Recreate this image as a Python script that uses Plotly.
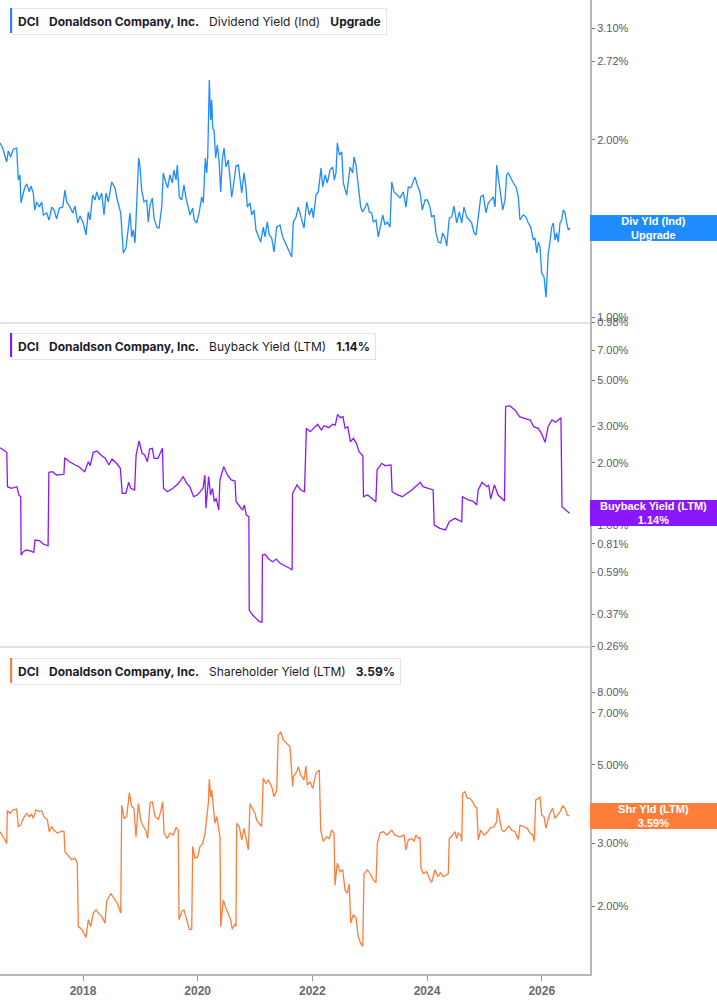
import math
import plotly.graph_objects as go

# ---------------- data (decimal years, percent values) ----------------
div_year = [
    2016.553, 2016.600, 2016.669, 2016.697, 2016.739, 2016.784, 2016.844, 2016.854, 2016.872, 2016.901,
    2016.919, 2016.959, 2016.989, 2017.018, 2017.064, 2017.093, 2017.133, 2017.158, 2017.193, 2017.238,
    2017.280, 2017.308, 2017.367, 2017.407, 2017.454, 2017.494, 2017.541, 2017.587, 2017.646, 2017.686,
    2017.716, 2017.773, 2017.820, 2017.861, 2017.908, 2017.948, 2018.005, 2018.052, 2018.093, 2018.122,
    2018.169, 2018.209, 2018.239, 2018.284, 2018.326, 2018.366, 2018.401, 2018.441, 2018.501, 2018.558,
    2018.598, 2018.658, 2018.703, 2018.750, 2018.790, 2018.820, 2018.849, 2018.877, 2018.907, 2018.937,
    2018.971, 2018.994, 2019.024, 2019.064, 2019.111, 2019.139, 2019.169, 2019.209, 2019.238, 2019.285,
    2019.325, 2019.373, 2019.400, 2019.442, 2019.477, 2019.517, 2019.557, 2019.587, 2019.622, 2019.645,
    2019.680, 2019.721, 2019.761, 2019.796, 2019.836, 2019.866, 2019.913, 2019.941, 2019.983, 2020.028,
    2020.070, 2020.098, 2020.133, 2020.157, 2020.175, 2020.203, 2020.227, 2020.245, 2020.262, 2020.285,
    2020.314, 2020.342, 2020.372, 2020.401, 2020.429, 2020.459, 2020.494, 2020.534, 2020.564, 2020.593,
    2020.621, 2020.668, 2020.709, 2020.738, 2020.768, 2020.808, 2020.843, 2020.866, 2020.913, 2020.942,
    2020.982, 2021.017, 2021.057, 2021.099, 2021.145, 2021.174, 2021.214, 2021.249, 2021.291, 2021.331,
    2021.378, 2021.436, 2021.483, 2021.523, 2021.563, 2021.610, 2021.640, 2021.668, 2021.715, 2021.755,
    2021.797, 2021.854, 2021.901, 2021.947, 2021.989, 2022.017, 2022.064, 2022.104, 2022.151, 2022.180,
    2022.221, 2022.261, 2022.308, 2022.355, 2022.383, 2022.412, 2022.435, 2022.470, 2022.512, 2022.540,
    2022.599, 2022.657, 2022.704, 2022.726, 2022.761, 2022.801, 2022.843, 2022.878, 2022.918, 2022.958,
    2022.993, 2023.035, 2023.063, 2023.110, 2023.150, 2023.192, 2023.227, 2023.267, 2023.307, 2023.354,
    2023.384, 2023.424, 2023.471, 2023.529, 2023.586, 2023.633, 2023.673, 2023.715, 2023.750, 2023.790,
    2023.830, 2023.877, 2023.917, 2023.965, 2024.005, 2024.052, 2024.081, 2024.121, 2024.156, 2024.196,
    2024.238, 2024.273, 2024.313, 2024.343, 2024.388, 2024.430, 2024.470, 2024.517, 2024.563, 2024.605,
    2024.645, 2024.692, 2024.737, 2024.779, 2024.819, 2024.854, 2024.894, 2024.936, 2024.981, 2025.028,
    2025.068, 2025.110, 2025.156, 2025.186, 2025.215, 2025.243, 2025.273, 2025.320, 2025.360, 2025.389,
    2025.417, 2025.459, 2025.505, 2025.552, 2025.592, 2025.621, 2025.679, 2025.726, 2025.766, 2025.808,
    2025.853, 2025.883, 2025.913, 2025.941, 2025.970, 2026.000, 2026.040, 2026.075, 2026.097, 2026.115,
    2026.144, 2026.174, 2026.202, 2026.232, 2026.261, 2026.289, 2026.319, 2026.348, 2026.376, 2026.406,
    2026.435, 2026.464, 2026.493,
]
div_val = [
    1.977, 1.938, 1.835, 1.916, 1.871, 1.931, 1.938, 1.849, 1.710, 1.744,
    1.563, 1.625, 1.664, 1.684, 1.632, 1.671, 1.625, 1.521, 1.569, 1.538,
    1.569, 1.491, 1.503, 1.462, 1.538, 1.521, 1.468, 1.532, 1.538, 1.644,
    1.569, 1.538, 1.503, 1.544, 1.445, 1.485, 1.445, 1.379, 1.509, 1.462,
    1.612, 1.581, 1.632, 1.581, 1.625, 1.491, 1.625, 1.569, 1.697, 1.658,
    1.581, 1.503, 1.285, 1.310, 1.434, 1.503, 1.368, 1.406, 1.336, 1.581,
    1.864, 1.799, 1.644, 1.569, 1.581, 1.451, 1.550, 1.594, 1.474, 1.422,
    1.417, 1.538, 1.758, 1.697, 1.658, 1.744, 1.690, 1.778, 1.710, 1.813,
    1.600, 1.581, 1.677, 1.594, 1.538, 1.491, 1.532, 1.462, 1.445, 1.509,
    1.600, 1.563, 1.864, 1.758, 1.871, 2.530, 2.163, 2.339, 2.096, 2.080,
    1.864, 1.961, 1.849, 1.632, 1.849, 1.938, 1.799, 1.849, 1.724, 1.600,
    1.664, 1.806, 1.813, 1.731, 1.625, 1.758, 1.658, 1.538, 1.563, 1.491,
    1.521, 1.406, 1.368, 1.341, 1.422, 1.368, 1.451, 1.379, 1.363, 1.290,
    1.422, 1.434, 1.368, 1.341, 1.315, 1.285, 1.265, 1.451, 1.479, 1.538,
    1.479, 1.417, 1.569, 1.491, 1.532, 1.474, 1.612, 1.632, 1.792, 1.664,
    1.744, 1.690, 1.778, 1.799, 1.710, 1.758, 1.977, 1.886, 1.908, 1.690,
    1.612, 1.799, 1.758, 1.871, 1.813, 1.664, 1.538, 1.509, 1.538, 1.563,
    1.509, 1.503, 1.451, 1.462, 1.368, 1.445, 1.491, 1.434, 1.451, 1.422,
    1.697, 1.632, 1.612, 1.594, 1.632, 1.538, 1.664, 1.658, 1.690, 1.731,
    1.677, 1.632, 1.521, 1.581, 1.581, 1.538, 1.479, 1.491, 1.390, 1.341,
    1.336, 1.390, 1.363, 1.320, 1.474, 1.479, 1.544, 1.445, 1.509, 1.445,
    1.538, 1.479, 1.462, 1.445, 1.390, 1.379, 1.479, 1.600, 1.612, 1.503,
    1.563, 1.581, 1.600, 1.538, 1.813, 1.731, 1.632, 1.521, 1.581, 1.744,
    1.758, 1.724, 1.690, 1.664, 1.600, 1.462, 1.491, 1.479, 1.445, 1.422,
    1.352, 1.363, 1.285, 1.341, 1.315, 1.188, 1.170, 1.081, 1.170, 1.285,
    1.341, 1.422, 1.445, 1.352, 1.390, 1.341, 1.445, 1.462, 1.521, 1.503,
    1.445, 1.406, 1.417,
]

buy_year = [
    2016.553, 2016.619, 2016.671, 2016.683, 2016.750, 2016.847, 2016.880, 2016.914, 2016.921, 2016.959,
    2017.011, 2017.077, 2017.142, 2017.163, 2017.241, 2017.306, 2017.391, 2017.405, 2017.470, 2017.536,
    2017.667, 2017.681, 2017.765, 2017.864, 2017.929, 2018.028, 2018.093, 2018.126, 2018.178, 2018.244,
    2018.310, 2018.389, 2018.453, 2018.506, 2018.584, 2018.651, 2018.684, 2018.748, 2018.795, 2018.834,
    2018.900, 2018.926, 2018.978, 2019.031, 2019.076, 2019.123, 2019.162, 2019.209, 2019.240, 2019.306,
    2019.385, 2019.404, 2019.470, 2019.568, 2019.667, 2019.746, 2019.810, 2019.863, 2019.929, 2019.995,
    2020.060, 2020.093, 2020.126, 2020.145, 2020.191, 2020.224, 2020.257, 2020.290, 2020.323, 2020.368,
    2020.388, 2020.454, 2020.518, 2020.585, 2020.651, 2020.670, 2020.716, 2020.782, 2020.815, 2020.846,
    2020.893, 2020.899, 2020.958, 2021.010, 2021.077, 2021.122, 2021.129, 2021.174, 2021.240, 2021.307,
    2021.371, 2021.438, 2021.502, 2021.602, 2021.647, 2021.654, 2021.732, 2021.799, 2021.863, 2021.896,
    2021.963, 2022.027, 2022.093, 2022.158, 2022.205, 2022.289, 2022.355, 2022.400, 2022.440, 2022.486,
    2022.533, 2022.571, 2022.617, 2022.664, 2022.716, 2022.768, 2022.814, 2022.880, 2022.892, 2022.965,
    2023.044, 2023.108, 2023.129, 2023.208, 2023.272, 2023.372, 2023.391, 2023.469, 2023.569, 2023.633,
    2023.733, 2023.797, 2023.883, 2023.928, 2024.027, 2024.106, 2024.125, 2024.223, 2024.322, 2024.387,
    2024.486, 2024.551, 2024.605, 2024.617, 2024.715, 2024.800, 2024.866, 2024.892, 2024.959, 2025.042,
    2025.076, 2025.109, 2025.175, 2025.239, 2025.306, 2025.351, 2025.370, 2025.437, 2025.534, 2025.613,
    2025.698, 2025.798, 2025.862, 2025.941, 2025.995, 2026.059, 2026.112, 2026.178, 2026.242, 2026.289,
    2026.335, 2026.354, 2026.420, 2026.485,
]
buy_val = [
    2.363, 2.303, 2.245, 1.531, 1.504, 1.531, 1.396, 1.370, 0.716, 0.743,
    0.757, 0.749, 0.738, 0.846, 0.840, 0.809, 0.794, 1.797, 1.809, 1.744,
    1.758, 2.114, 2.022, 1.950, 1.912, 1.809, 2.022, 1.934, 2.245, 2.278,
    2.178, 2.100, 1.950, 2.084, 1.987, 1.879, 1.422, 1.422, 1.608, 1.504,
    1.476, 2.178, 2.546, 2.221, 2.178, 2.022, 2.329, 2.347, 2.100, 2.100,
    2.347, 1.504, 1.448, 1.504, 1.590, 1.712, 1.590, 1.531, 1.370, 1.396,
    1.459, 1.504, 1.744, 1.204, 1.712, 1.396, 1.504, 1.296, 1.346, 1.181,
    1.650, 1.912, 1.744, 1.650, 1.631, 1.296, 1.249, 1.181, 1.249, 1.118,
    1.097, 0.3885, 0.3674, 0.3565, 0.3411, 0.3388, 0.716, 0.722, 0.685, 0.665,
    0.685, 0.653, 0.641, 0.618, 0.606, 1.422, 1.561, 1.476, 1.448, 2.932,
    2.823, 2.932, 3.066, 2.877, 3.018, 2.951, 3.066, 3.042, 3.426, 3.299,
    3.336, 2.932, 2.985, 2.526, 2.623, 2.481, 2.260, 2.161, 1.370, 1.396,
    1.346, 1.296, 1.844, 1.987, 1.934, 1.950, 1.448, 1.407, 1.370, 1.407,
    1.476, 1.531, 1.608, 1.531, 1.493, 1.476, 1.000, 0.964, 0.946, 1.037,
    1.077, 1.057, 1.037, 1.370, 1.321, 1.306, 1.249, 1.476, 1.608, 1.531,
    1.561, 1.336, 1.561, 1.396, 1.336, 1.306, 3.728, 3.770, 3.595, 3.336,
    3.278, 3.215, 2.985, 2.932, 2.773, 2.509, 2.985, 3.215, 3.134, 3.215,
    3.299, 1.226, 1.181, 1.14,
]

shr_year = [
    2016.553, 2016.610, 2016.669, 2016.680, 2016.727, 2016.784, 2016.844, 2016.872, 2016.914, 2016.959,
    2017.018, 2017.064, 2017.105, 2017.133, 2017.180, 2017.238, 2017.280, 2017.320, 2017.377, 2017.412,
    2017.454, 2017.494, 2017.552, 2017.629, 2017.669, 2017.686, 2017.744, 2017.803, 2017.860, 2017.901,
    2017.918, 2017.977, 2018.052, 2018.093, 2018.134, 2018.180, 2018.227, 2018.267, 2018.326, 2018.384,
    2018.413, 2018.483, 2018.541, 2018.598, 2018.658, 2018.675, 2018.715, 2018.762, 2018.808, 2018.849,
    2018.889, 2018.924, 2018.965, 2019.006, 2019.052, 2019.093, 2019.128, 2019.169, 2019.209, 2019.256,
    2019.313, 2019.355, 2019.390, 2019.413, 2019.470, 2019.517, 2019.575, 2019.622, 2019.662, 2019.674,
    2019.721, 2019.761, 2019.809, 2019.854, 2019.896, 2019.913, 2019.953, 2020.000, 2020.040, 2020.088,
    2020.128, 2020.157, 2020.185, 2020.203, 2020.227, 2020.245, 2020.273, 2020.302, 2020.332, 2020.360,
    2020.389, 2020.402, 2020.447, 2020.494, 2020.534, 2020.576, 2020.604, 2020.651, 2020.668, 2020.681,
    2020.726, 2020.768, 2020.808, 2020.843, 2020.883, 2020.913, 2020.960, 2021.000, 2021.029, 2021.075,
    2021.116, 2021.144, 2021.191, 2021.232, 2021.291, 2021.331, 2021.378, 2021.406, 2021.448, 2021.493,
    2021.540, 2021.581, 2021.610, 2021.657, 2021.668, 2021.727, 2021.755, 2021.797, 2021.854, 2021.889,
    2021.912, 2021.959, 2022.006, 2022.064, 2022.121, 2022.146, 2022.191, 2022.250, 2022.296, 2022.337,
    2022.378, 2022.395, 2022.435, 2022.482, 2022.529, 2022.569, 2022.610, 2022.644, 2022.669, 2022.714,
    2022.761, 2022.801, 2022.843, 2022.878, 2022.901, 2022.958, 2023.005, 2023.063, 2023.110, 2023.133,
    2023.180, 2023.237, 2023.297, 2023.384, 2023.441, 2023.529, 2023.598, 2023.633, 2023.673, 2023.732,
    2023.773, 2023.807, 2023.848, 2023.877, 2023.895, 2023.935, 2023.994, 2024.040, 2024.081, 2024.139,
    2024.186, 2024.238, 2024.284, 2024.343, 2024.371, 2024.388, 2024.448, 2024.488, 2024.517, 2024.545,
    2024.587, 2024.605, 2024.622, 2024.662, 2024.702, 2024.749, 2024.797, 2024.837, 2024.866, 2024.894,
    2024.936, 2024.994, 2025.040, 2025.098, 2025.168, 2025.215, 2025.226, 2025.260, 2025.302, 2025.342,
    2025.390, 2025.430, 2025.477, 2025.534, 2025.592, 2025.621, 2025.679, 2025.749, 2025.796, 2025.843,
    2025.871, 2025.895, 2025.941, 2025.970, 2026.000, 2026.040, 2026.075, 2026.115, 2026.157, 2026.192,
    2026.232, 2026.272, 2026.319, 2026.366, 2026.406, 2026.446, 2026.481,
]
shr_val = [
    3.24, 3.13, 3.00, 3.71, 3.65, 3.73, 3.75, 3.35, 3.38, 3.53,
    3.65, 3.57, 3.63, 3.53, 3.73, 3.69, 3.71, 3.56, 3.51, 3.24,
    3.35, 3.27, 3.21, 3.25, 3.24, 2.84, 2.77, 2.70, 2.73, 2.64,
    1.75, 1.72, 1.63, 1.83, 1.75, 1.91, 1.95, 1.91, 1.87, 1.79,
    2.06, 2.17, 2.10, 2.04, 1.91, 3.85, 3.53, 3.57, 4.17, 3.81,
    3.77, 3.13, 3.89, 3.49, 3.35, 3.27, 3.10, 3.91, 3.93, 3.57,
    3.51, 3.69, 3.93, 3.21, 3.10, 3.21, 3.17, 3.33, 3.27, 1.83,
    1.93, 1.95, 1.83, 1.72, 1.72, 2.94, 2.73, 2.75, 2.94, 3.00,
    3.21, 3.49, 3.89, 4.55, 4.06, 4.24, 3.77, 3.42, 3.57, 3.35,
    3.13, 1.75, 2.08, 1.97, 1.91, 1.83, 1.72, 1.78, 1.75, 3.42,
    3.35, 3.07, 3.31, 3.07, 2.88, 3.88, 3.77, 3.65, 3.49, 3.42,
    3.35, 4.58, 4.43, 4.53, 4.34, 4.06, 4.24, 6.06, 6.19, 5.87,
    5.77, 5.65, 5.62, 4.34, 4.63, 4.78, 4.94, 4.68, 4.53, 4.96,
    4.38, 4.48, 4.29, 4.73, 4.83, 3.27, 3.04, 3.13, 3.10, 3.27,
    3.21, 2.29, 2.64, 2.50, 2.53, 2.22, 2.17, 2.31, 1.79, 1.89,
    1.85, 1.64, 1.57, 1.54, 2.46, 2.53, 2.47, 2.37, 2.33, 3.00,
    3.21, 3.24, 3.17, 3.27, 3.17, 3.13, 3.17, 2.88, 3.07, 3.10,
    3.04, 3.17, 3.10, 3.12, 2.55, 2.47, 2.50, 2.39, 2.33, 2.53,
    2.42, 2.48, 2.42, 2.45, 2.47, 3.10, 3.17, 3.24, 3.10, 3.21,
    3.17, 3.04, 4.15, 4.20, 4.02, 4.02, 3.93, 3.81, 3.79, 3.07,
    3.27, 3.17, 3.21, 3.31, 3.35, 3.46, 3.77, 3.57, 3.27, 3.24,
    3.31, 3.36, 3.27, 3.24, 3.08, 3.38, 3.35, 3.31, 3.21, 3.17,
    3.04, 3.98, 4.02, 4.05, 3.61, 3.57, 3.31, 3.53, 3.69, 3.77,
    3.53, 3.61, 3.69, 3.83, 3.77, 3.61, 3.59,
]

div_ticks = [3.10, 2.72, 2.00, 1.00, 0.98]
buy_ticks = [7.00, 5.00, 3.00, 2.00, 1.00, 0.81, 0.59, 0.37, 0.26]
shr_ticks = [8.00, 7.00, 5.00, 3.00, 2.00]
year_ticks = [2018, 2020, 2022, 2024, 2026]

company = "Donaldson Company, Inc."
ticker = "DCI"

# ---------------- styling ----------------
BLUE = "#1E8CFF"
PURPLE = "#8A17FF"
ORANGE = "#FF7D3B"
AXIS = "#b9b9b9"
W, H = 717, 1005
PLOT_W, PLOT_H = 590, 974

def py(px):  # pixel (from top of plot area) -> paper y
    return (PLOT_H - px) / PLOT_H

def pxx(px):
    return px / PLOT_W

d1 = [py(323), 1.0]
d2 = [py(647), py(323)]
d3 = [0.0, py(647)]

fig = go.Figure()
fig.add_trace(go.Scatter(x=div_year, y=div_val, mode="lines", xaxis="x", yaxis="y",
                         line=dict(color=BLUE, width=1.3), hoverinfo="skip"))
fig.add_trace(go.Scatter(x=buy_year, y=buy_val, mode="lines", xaxis="x", yaxis="y2",
                         line=dict(color=PURPLE, width=1.3), hoverinfo="skip"))
fig.add_trace(go.Scatter(x=shr_year, y=shr_val, mode="lines", xaxis="x", yaxis="y3",
                         line=dict(color=ORANGE, width=1.3), hoverinfo="skip"))

tickfont = dict(family="Liberation Sans, Arial, sans-serif", size=11, color="#5a5a5a")

def yax(domain, lo, hi, ticks):
    return dict(domain=domain, anchor="x", side="right", type="log",
                range=[math.log10(lo), math.log10(hi)],
                tickmode="array", tickvals=ticks, ticktext=[f"{t:.2f}%" for t in ticks],
                showgrid=False, zeroline=False, showline=True, linecolor=AXIS, linewidth=2,
                ticks="outside", ticklen=3, tickwidth=1, tickcolor="#777",
                tickfont=tickfont, fixedrange=True)

fig.update_layout(
    width=W, height=H,
    margin=dict(l=0, r=W - PLOT_W, t=0, b=H - PLOT_H, pad=0),
    paper_bgcolor="white", plot_bgcolor="white",
    showlegend=False,
    xaxis=dict(domain=[0, 1], anchor="y3", range=[2016.5525, 2026.842],
               tickmode="array", tickvals=year_ticks, ticktext=[str(y) for y in year_ticks],
               showgrid=False, zeroline=False, showline=True, linecolor=AXIS, linewidth=2,
               ticks="outside", ticklen=5, tickcolor="#999",
               tickfont=dict(family="Liberation Sans, Arial, sans-serif", size=12,
                             color="#6b6b6b", weight="bold")),
    yaxis=yax(d1, 0.9768, 3.46, div_ticks),
    yaxis2=yax(d2, 0.2574, 9.46, buy_ticks),
    yaxis3=yax(d3, 1.287, 10.73, shr_ticks),
)

shapes = []
for yy in (py(323), py(647)):
    shapes.append(dict(type="line", xref="paper", yref="paper", x0=0, x1=1, y0=yy, y1=yy,
                       line=dict(color="#c4c4c4", width=1)))

annotations = []
SP = "\u00a0\u00a0\u00a0"
titles = [
    (8, 33, BLUE, f"<b>{ticker}</b>{SP}<b>{company}</b>{SP}Dividend Yield (Ind){SP}<b>Upgrade</b>"),
    (333, 357, PURPLE, f"<b>{ticker}</b>{SP}<b>{company}</b>{SP}Buyback Yield (LTM){SP}<b>{buy_val[-1]:.2f}%</b>"),
    (658, 683, ORANGE, f"<b>{ticker}</b>{SP}<b>{company}</b>{SP}Shareholder Yield (LTM){SP}<b>{shr_val[-1]:.2f}%</b>"),
]
for top, bot, col, txt in titles:
    annotations.append(dict(xref="paper", yref="paper", x=pxx(12), y=py(top), xanchor="left", yanchor="top",
                            text=txt, showarrow=False, align="left",
                            font=dict(family="Inter, sans-serif", size=12, color="#1c1c28"),
                            bgcolor="white", bordercolor="#e4e4e8", borderwidth=1, borderpad=5))
    shapes.append(dict(type="rect", xref="paper", yref="paper", x0=pxx(10), x1=pxx(13.5),
                       y0=py(bot), y1=py(top), fillcolor=col, line=dict(width=0)))

labels = [
    ("y", div_val[-1], BLUE, "<b>Div Yld (Ind)<br>Upgrade</b>"),
    ("y2", buy_val[-1], PURPLE, f"<b>Buyback Yield (LTM)<br>{buy_val[-1]:.2f}%</b>"),
    ("y3", shr_val[-1], ORANGE, f"<b>Shr Yld (LTM)<br>{shr_val[-1]:.2f}%</b>"),
]
for ref, v, col, txt in labels:
    annotations.append(dict(xref="paper", yref=ref, x=1, y=math.log10(v), xanchor="left", yanchor="middle",
                            text=txt, showarrow=False, align="center", width=W - PLOT_W, height=26,
                            font=dict(family="Liberation Sans, Arial, sans-serif", size=11, color="white"),
                            bgcolor=col, borderpad=0, borderwidth=0))

fig.update_layout(shapes=shapes, annotations=annotations)
fig.write_html("out.html")
